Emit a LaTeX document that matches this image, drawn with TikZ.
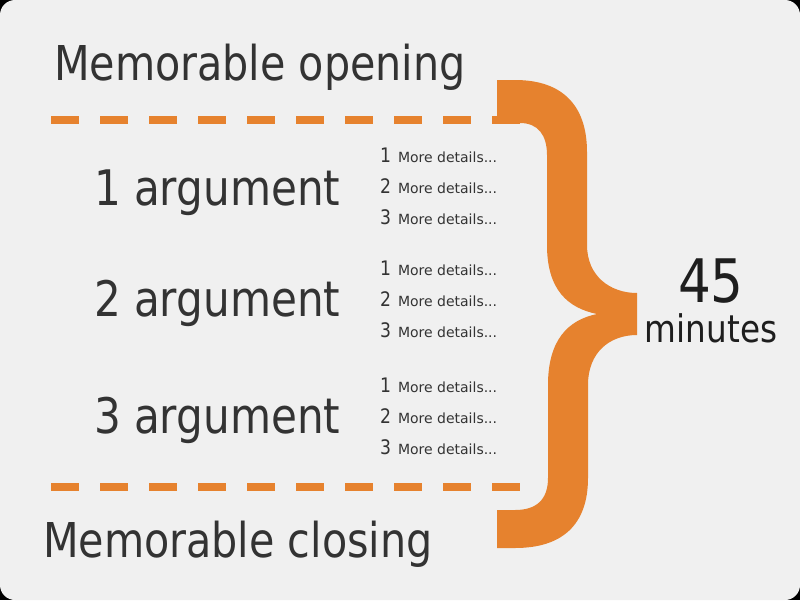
\documentclass[tikz,border=0pt]{standalone}
\usepackage{fontspec}
\setmainfont[FakeStretch=0.86]{DejaVu Sans}
\newfontfamily\detfont{DejaVu Sans}
\definecolor{bgc}{HTML}{F0F0F0}
\definecolor{orng}{HTML}{E6822E}
\definecolor{txt}{HTML}{333333}
\definecolor{txtdark}{HTML}{1E1E1E}
\tikzset{
  lbl/.style={inner sep=0pt, outer sep=0pt, anchor=base west, text=txt},
  head/.style={lbl, font=\fontsize{48}{56}\selectfont},
  arg/.style={lbl, font=\fontsize{49}{56}\selectfont},
  num/.style={lbl, font=\fontsize{20}{22}\selectfont},
  det/.style={lbl, font=\detfont\fontsize{14}{16}\selectfont},
  dashline/.style={orng, line width=8pt, dash pattern=on 28pt off 21pt},
}
\begin{document}
\begin{tikzpicture}[x=1pt,y=-1pt]
\fill[black] (0,0) rectangle (800,600);
\fill[bgc, rounded corners=15pt] (0,0) rectangle (800,600);
\useasboundingbox (0,0) rectangle (800,600);

% dashed separators
\coordinate (t1) at (51,120);
\coordinate (t2) at (520,120);
\coordinate (b1) at (51,487);
\coordinate (b2) at (520,487);
\draw[dashline] (t1) -- (t2);
\draw[dashline] (b1) -- (b2);

% brace
\fill[orng] (497,80) -- (515,80)
  .. controls (562,80) and (587,105) .. (587,152)
  -- (587,245)
  .. controls (587,276) and (610,293) .. (637,293)
  -- (637,335)
  .. controls (610,335) and (588,352) .. (588,385)
  -- (588,478)
  .. controls (588,525) and (562,548) .. (515,548)
  -- (497,548) -- (497,510) -- (515,510)
  .. controls (536,510) and (548,500) .. (548,478)
  -- (548,385)
  .. controls (548,340) and (568,320) .. (597,314)
  .. controls (568,308) and (547,290) .. (547,245)
  -- (547,155)
  .. controls (547,135) and (538,123) .. (520,123)
  -- (497,123) -- cycle;

% headings
\node[head] (open) at (54,80) {Memorable opening};
\node[head] (close) at (43,557) {Memorable closing};

% arguments
\node[arg] (a1) at (94,205) {1 argument};
\node[arg] (a2) at (94,316) {2 argument};
\node[arg] (a3) at (94,433) {3 argument};

% details
\foreach \g/\ya/\yb/\yc in {1/162/193/224, 2/275/306/337, 3/392/423/454}{
  \node[num] (n\g a) at (380,\ya) {1};
  \node[det] (d\g a) at (398,\ya) {More details...};
  \node[num] (n\g b) at (380,\yb) {2};
  \node[det] (d\g b) at (398,\yb) {More details...};
  \node[num] (n\g c) at (380,\yc) {3};
  \node[det] (d\g c) at (398,\yc) {More details...};
}

% time
\node[inner sep=0pt, anchor=base, text=txtdark, font=\fontsize{60}{66}\selectfont] (num45) at (711,302) {45};
\node[inner sep=0pt, anchor=base, text=txtdark, font=\fontsize{38}{44}\selectfont] (mins) at (711,342) {minutes};
\end{tikzpicture}
\end{document}
